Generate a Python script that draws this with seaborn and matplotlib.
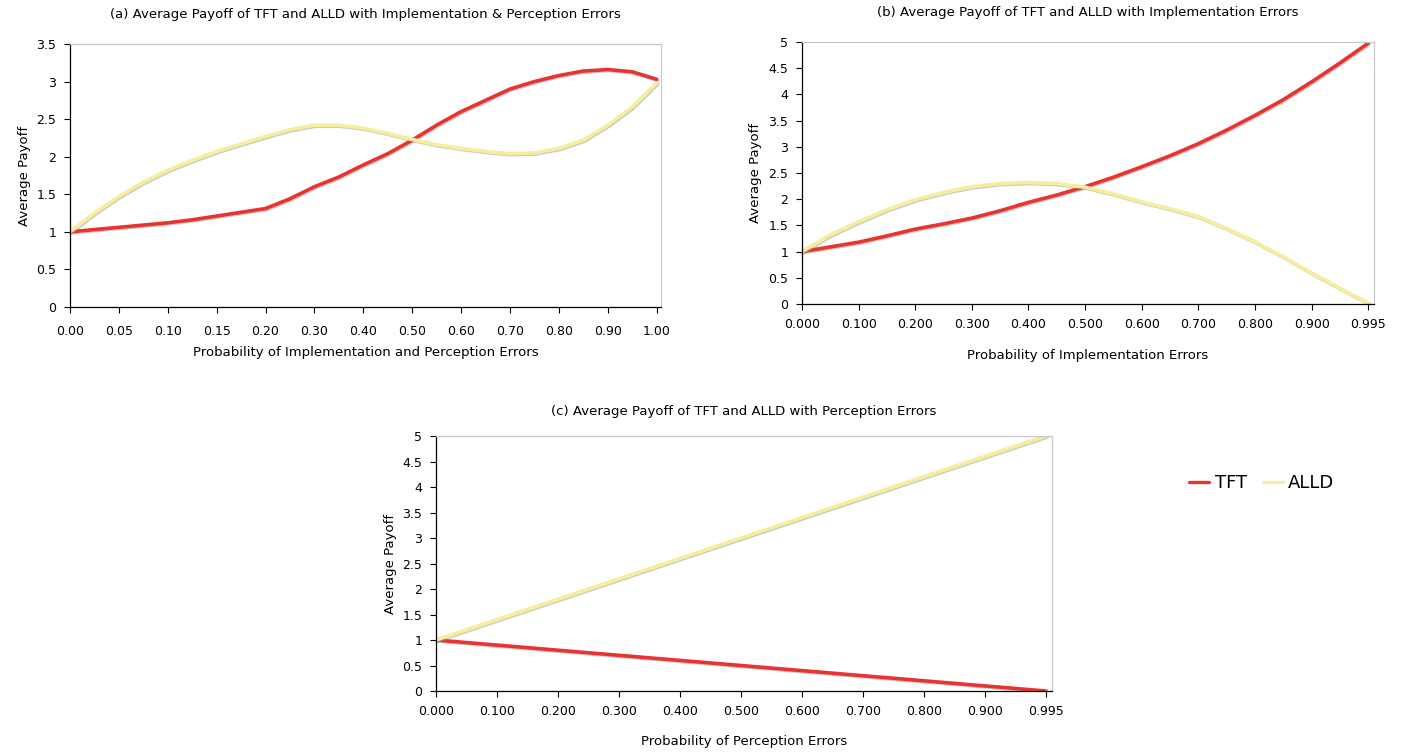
import numpy as np
import pandas as pd
import matplotlib
matplotlib.use("Agg")
import matplotlib.pyplot as plt
import matplotlib.patheffects as pe
import seaborn as sns

# ---------------- data ----------------
# (a) implementation & perception errors (x in tick-index units)
a_labels = ["0.00", "0.05", "0.10", "0.15", "0.20", "0.30", "0.40", "0.50",
            "0.60", "0.70", "0.80", "0.90", "1.00"]
a_x = [0, 0.5, 1, 1.5, 2, 2.5, 3, 3.5, 4, 4.5, 5, 5.5, 6, 6.5, 7, 7.5, 8, 8.5,
       9, 9.5, 10, 10.5, 11, 11.5, 12]
a_tft = [1.00, 1.03, 1.06, 1.09, 1.12, 1.16, 1.21, 1.26, 1.31, 1.44, 1.60, 1.73,
         1.89, 2.04, 2.22, 2.42, 2.60, 2.75, 2.90, 3.00, 3.08, 3.14, 3.16, 3.13, 3.03]
a_alld = [1.00, 1.25, 1.47, 1.66, 1.82, 1.95, 2.07, 2.17, 2.27, 2.36, 2.42, 2.42,
          2.38, 2.31, 2.23, 2.16, 2.11, 2.07, 2.04, 2.05, 2.11, 2.22, 2.42, 2.66, 2.98]

# (b) implementation errors
b_labels = ["0.000", "0.100", "0.200", "0.300", "0.400", "0.500", "0.600",
            "0.700", "0.800", "0.900", "0.995"]
b_x = [0, 0.5, 1, 1.5, 2, 2.5, 3, 3.5, 4, 4.5, 5, 5.5, 6, 6.5, 7, 7.5, 8, 8.5,
       9, 9.5, 10]
b_tft = [1.00, 1.09, 1.18, 1.30, 1.43, 1.53, 1.64, 1.78, 1.94, 2.08, 2.24, 2.42,
         2.62, 2.83, 3.06, 3.32, 3.60, 3.90, 4.24, 4.60, 4.98]
b_alld = [1.00, 1.32, 1.57, 1.80, 1.99, 2.13, 2.24, 2.30, 2.32, 2.30, 2.23, 2.10,
          1.95, 1.82, 1.67, 1.44, 1.19, 0.90, 0.59, 0.30, 0.02]

# (c) perception errors
c_labels = ["0.000", "0.100", "0.200", "0.300", "0.400", "0.500", "0.600",
            "0.700", "0.800", "0.900", "0.995"]
c_x = [0, 1, 2, 3, 4, 5, 6, 7, 8, 9, 10]
c_tft = [1.0, 0.9, 0.8, 0.7, 0.6, 0.5, 0.4, 0.3, 0.2, 0.1, 0.0]
c_alld = [1.0, 1.4, 1.8, 2.2, 2.6, 3.0, 3.4, 3.8, 4.2, 4.6, 5.0]

titles = ["(a) Average Payoff of TFT and ALLD with Implementation & Perception Errors",
          "(b) Average Payoff of TFT and ALLD with Implementation Errors",
          "(c) Average Payoff of TFT and ALLD with Perception Errors"]
xlabels = ["Probability of Implementation and Perception Errors",
           "Probability of Implementation Errors",
           "Probability of Perception Errors"]
series_names = ["TFT", "ALLD"]
palette = {"TFT": "#e8332e", "ALLD": "#f7ee9c"}

# ---------------- plot ----------------
sns.set_style("white")
plt.rcParams["font.family"] = ["DejaVu Sans"]
plt.rcParams["text.color"] = "black"
plt.rcParams["axes.labelcolor"] = "black"
plt.rcParams["xtick.color"] = "black"
plt.rcParams["ytick.color"] = "black"

fig = plt.figure(figsize=(14.02, 7.52), dpi=100)
positions = [
    [0.0499, 0.5918, 0.4216, 0.3497],
    [0.5720, 0.5957, 0.4080, 0.3484],
    [0.3110, 0.0811, 0.4394, 0.3391],
]
panels = [
    (a_x, a_tft, a_alld, a_labels, 3.5, 0.5, 12.09),
    (b_x, b_tft, b_alld, b_labels, 5.0, 0.5, 10.1),
    (c_x, c_tft, c_alld, c_labels, 5.0, 0.5, 10.1),
]
title_pads = [18.5, 18.5, 15]
xtick_pads = [9, 6, 6]
xlabel_pads = [6, 13, 12]

shadow = [pe.SimpleLineShadow(offset=(0.8, -0.8), shadow_color="#999999", alpha=0.5), pe.Normal()]

axes = []
for i, (pos, (xs, tft, alld, labels, ymax, ystep, xmax)) in enumerate(zip(positions, panels)):
    ax = fig.add_axes(pos)
    df = pd.DataFrame({
        "x": list(xs) * 2,
        "y": list(tft) + list(alld),
        "series": ["TFT"] * len(xs) + ["ALLD"] * len(xs),
    })
    sns.lineplot(data=df, x="x", y="y", hue="series", hue_order=series_names,
                 palette=palette, linewidth=2.6, ax=ax, legend=(i == 0),
                 sort=True, errorbar=None)
    for ln in ax.get_lines():
        ln.set_path_effects(shadow)
    ax.set_xlim(0, xmax)
    ax.set_ylim(0, ymax)
    ax.set_xticks(range(len(labels)))
    ax.set_xticklabels(labels, fontsize=9)
    yt = np.arange(0, ymax + 1e-9, ystep)
    ax.set_yticks(yt)
    ax.set_yticklabels([f"{v:g}" for v in yt], fontsize=9)
    ax.tick_params(axis="both", direction="out", length=4, width=0.8, color="black",
                   bottom=True, left=True, pad=6)
    ax.tick_params(axis="x", pad=xtick_pads[i])
    for s in ["left", "bottom"]:
        ax.spines[s].set_color("black")
        ax.spines[s].set_linewidth(0.9)
    for s in ["top", "right"]:
        ax.spines[s].set_color("#c8c8c8")
        ax.spines[s].set_linewidth(0.9)
    ax.set_title(titles[i], fontsize=9.5, pad=title_pads[i], color="black")
    ax.set_xlabel(xlabels[i], fontsize=9.5, labelpad=xlabel_pads[i])
    ax.set_ylabel("Average Payoff", fontsize=9.5, labelpad=4)
    axes.append(ax)

handles, labs = axes[0].get_legend_handles_labels()
axes[0].get_legend().remove()
for h in handles:
    h.set_linewidth(2.4)
    h.set_path_effects([])
fig.legend(handles, labs, loc="center", bbox_to_anchor=(1262 / 1402, 1 - 483 / 752),
           ncol=2, frameon=False, fontsize=13, handlelength=1.1, handletextpad=0.3,
           columnspacing=0.9)

fig.savefig("out.png", dpi=100)
